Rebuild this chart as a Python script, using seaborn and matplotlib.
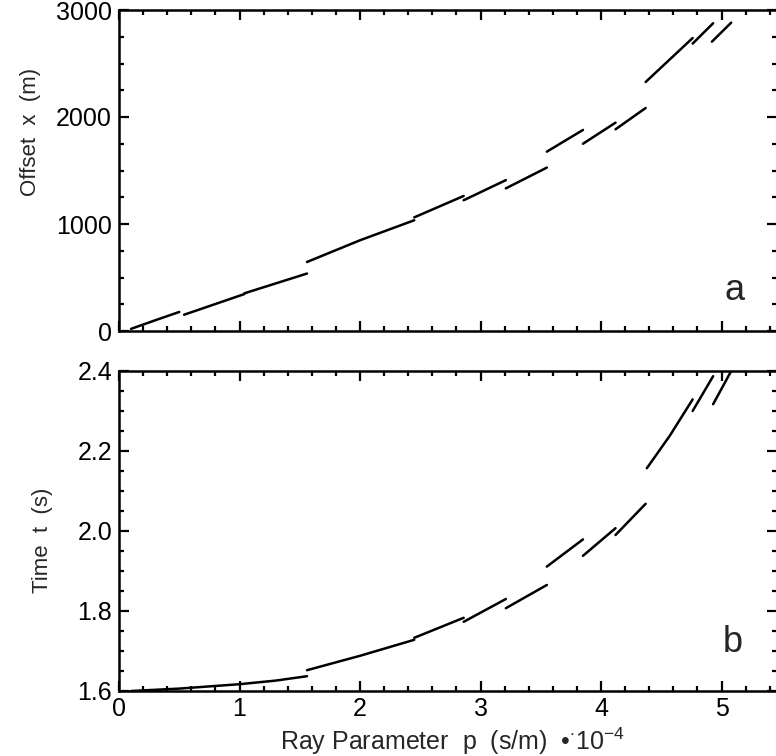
import numpy as np
import pandas as pd
import matplotlib
matplotlib.use("Agg")
import matplotlib.pyplot as plt
import seaborn as sns
from matplotlib.ticker import MultipleLocator

# ---- Panel a: offset x (m) vs ray parameter p (x1e-4 s/m) ----
seg_a = [1, 1, 1, 2, 2, 3, 3, 4, 4, 4, 5, 5, 6, 6, 7, 7, 8, 8, 9, 9, 10, 10, 11, 11, 12, 12, 13, 13]
p_a = [0.10, 0.30, 0.50, 0.54, 1.04, 1.04, 1.56, 1.56, 2.00, 2.45, 2.45, 2.86, 2.86, 3.21,
       3.21, 3.55, 3.55, 3.85, 3.85, 4.12, 4.12, 4.37, 4.37, 4.76, 4.76, 4.93, 4.92, 5.08]
x_a = [20, 100, 178, 152, 345, 352, 537, 645, 848, 1035, 1062, 1262, 1222, 1410,
       1333, 1527, 1676, 1879, 1750, 1947, 1885, 2084, 2327, 2738, 2686, 2876, 2704, 2882]

# ---- Panel b: time t (s) vs ray parameter p ----
seg_b = [1, 1, 1, 1, 1, 2, 2, 2, 3, 3, 4, 4, 5, 5, 6, 6, 7, 7, 8, 8, 9, 9, 9, 10, 10, 11, 11]
p_b = [0.10, 0.50, 1.00, 1.30, 1.56, 1.56, 2.00, 2.45, 2.45, 2.86, 2.86, 3.21, 3.21, 3.55,
       3.55, 3.85, 3.85, 4.12, 4.12, 4.37, 4.38, 4.57, 4.76, 4.76, 4.93, 4.93, 5.08]
t_b = [1.600, 1.606, 1.617, 1.626, 1.637, 1.652, 1.688, 1.728, 1.733, 1.783, 1.773, 1.830,
       1.807, 1.865, 1.911, 1.979, 1.938, 2.007, 1.990, 2.068, 2.157, 2.238, 2.329,
       2.300, 2.387, 2.317, 2.400]

xticks = [0, 1, 2, 3, 4, 5]
yticks_a = [0, 1000, 2000, 3000]
yticks_b = [1.6, 1.8, 2.0, 2.2, 2.4]

df_a = pd.DataFrame({"p": p_a, "x": x_a, "seg": seg_a})
df_b = pd.DataFrame({"p": p_b, "t": t_b, "seg": seg_b})

sns.set_theme(style="ticks")
plt.rcParams["font.family"] = ["Liberation Sans", "DejaVu Sans"]
plt.rcParams["mathtext.fontset"] = "custom"
plt.rcParams["mathtext.rm"] = "Liberation Sans"
plt.rcParams["mathtext.it"] = "Liberation Sans:italic"
plt.rcParams["mathtext.bf"] = "Liberation Sans:bold"

fig = plt.figure(figsize=(7.76, 7.56), dpi=100)
W, H = 776, 756
left, right = 119, 777
AW = right - left
ax1 = fig.add_axes([left / W, 1 - 331 / H, AW / W, (331 - 10) / H])
ax2 = fig.add_axes([left / W, 1 - 691 / H, AW / W, (691 - 371) / H])

sns.lineplot(data=df_a, x="p", y="x", units="seg", estimator=None, sort=False,
             color="black", linewidth=1.8, ax=ax1)
sns.lineplot(data=df_b, x="p", y="t", units="seg", estimator=None, sort=False,
             color="black", linewidth=1.8, ax=ax2)

xmax = 5.46
for ax in (ax1, ax2):
    ax.set_xlim(0, xmax)
    ax.xaxis.set_major_locator(MultipleLocator(1))
    ax.xaxis.set_minor_locator(MultipleLocator(0.2))
    ax.tick_params(which="both", direction="in", top=True, right=True, width=1.6,
                   colors="black", labelsize=18)
    ax.tick_params(which="major", length=7)
    ax.tick_params(which="minor", length=3.5)
    ax.tick_params(axis="y", which="major", pad=5)
    ax.tick_params(axis="x", which="major", pad=4)
    for s in ax.spines.values():
        s.set_linewidth(1.8)
        s.set_color("black")

ax1.set_ylim(0, 3000)
ax1.set_yticks(yticks_a)
ax1.yaxis.set_minor_locator(MultipleLocator(250))
ax1.set_xticks(xticks)
ax1.set_xticklabels([])
ax1.set_xlabel("")
ax1.set_ylabel("Offset  x  (m)", fontsize=16, va="center")
ax1.yaxis.set_label_coords(-(left - 30) / AW, 0.62)
ax1.text(0.936, 0.097, "a", transform=ax1.transAxes, fontsize=26, ha="center", va="baseline")

ax2.set_ylim(1.6, 2.4)
ax2.set_yticks(yticks_b)
ax2.yaxis.set_minor_locator(MultipleLocator(0.05))
ax2.set_xticks(xticks)
ax2.set_xticklabels([str(v) for v in xticks])
ax2.set_ylabel("Time  t  (s)", fontsize=16, va="center")
ax2.yaxis.set_label_coords(-(left - 42) / AW, 0.47)
ax2.set_xlabel(r"Ray Parameter  p  (s/m)  •$^{\bullet}$10$^{-4}$", fontsize=18)
ax2.xaxis.set_label_coords((452 - left) / AW, -(741 - 691) / 320)
ax2.xaxis.label.set_va("center")
ax2.text(0.933, 0.122, "b", transform=ax2.transAxes, fontsize=26, ha="center", va="baseline")

fig.savefig("out.png", dpi=100)
